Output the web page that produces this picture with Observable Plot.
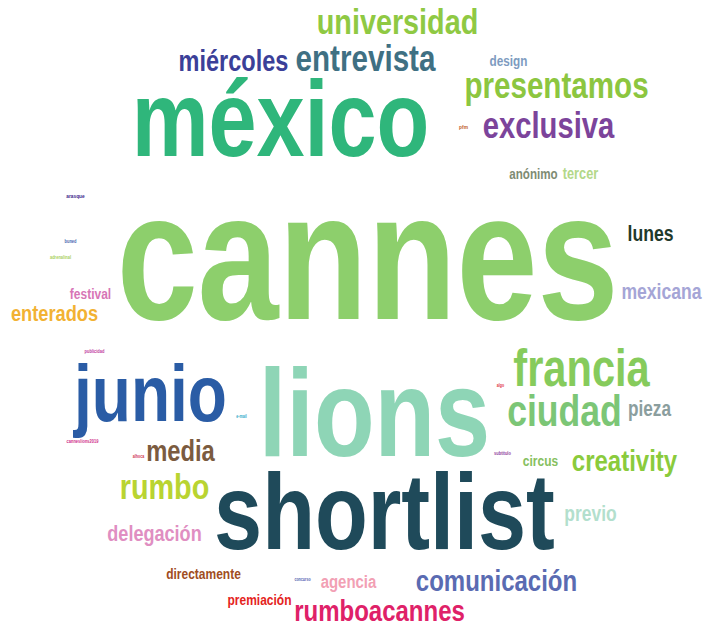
<!DOCTYPE html>
<html>
<head>
<meta charset="utf-8">
<script src="https://cdn.jsdelivr.net/npm/d3@7"></script>
<script src="https://cdn.jsdelivr.net/npm/@observablehq/plot@0.6"></script>
<style>
  html, body { margin: 0; padding: 0; background: #fff; }
</style>
</head>
<body>
<div id="chart"></div>
<script>
// Word-cloud content: words, their frequency weight (→ font size), colours,
// and the cloud layout (positions in layout units 0..716 × 0..626, baseline).
const words = ["cannes","lions","shortlist","méxico","junio","francia","ciudad","universidad",
  "entrevista","miércoles","presentamos","exclusiva","design","pfm","anónimo","tercer",
  "lunes","mexicana","festival","enterados","pieza","media","creativity","circus","rumbo",
  "previo","delegación","directamente","agencia","comunicación","premiación","rumboacannes",
  "arasque","buned","adrenalinal","publicidad","canneslions2019","alhoca","e-mail","algo","subtitulo","concurso"];
const weights = [182,124,108,108,80,52,44.5,36,37,29.4,37,36.5,14.7,6,14.5,16,
  22,22,15,22.8,21.5,29.7,30,15,36,21.8,22.6,15,18.7,30,15,30,
  6,5,5,5,5,4.5,4.5,4.5,5,4.5];
const colors = ["#8dcf6c","#8ed5b6","#1f4a5a","#2fb67b","#2a5ca5","#86cb5c","#7cc676","#8fc943",
  "#3f7083","#3b4098","#8cc640","#7c449b","#7d9bc0","#c0602a","#7e8b73","#b3d889",
  "#1f3a2c","#a5a5d6","#d775b6","#f2b233","#8b9e9e","#7b5b40","#8acb3c","#86c05e","#b9d431",
  "#b3dfcd","#e08ec2","#a04d22","#f2a0b4","#5a6bb2","#e4231d","#df2168",
  "#3a1f8a","#4a6ab0","#a8d060","#c040a0","#d0308a","#d03050","#30a8c8","#e03040","#9040a0","#5060b0"];
const layoutX = [367,374,384,280,150,581,564,397,365,233,556,548,508,463,533,580,
  650,661,90,54,649,180,624,540,164,590,154,203,348,496,259,379,
  75,70,60,94,82,138,241,500,502,302];
const layoutY = [318,455,548,155,420,385,425,33,70,70,97,137,65,128,178,178,
  240,298,298,320,415,460,470,465,498,520,540,578,587,590,604,620,
  197,242,258,352,442,457,417,386,454,580];

const xScaleFactor = 0.8;
const data = words.map((w, i) => ({word: w, size: weights[i], color: colors[i], x: layoutX[i], y: layoutY[i]}));

const plot = Plot.plot({
  width: 716,
  height: 626,
  margin: 0,
  x: {domain: [0, 716], axis: null},
  y: {domain: [0, 626], axis: null, reverse: true},
  style: {background: "#fff"},
  marks: [
    Plot.text(data, {
      x: "x", y: "y", text: "word",
      fontSize: "size",
      fill: "color",
      textAnchor: "middle",
      lineAnchor: "bottom",
      fontFamily: "Liberation Sans, Arial, sans-serif",
      fontWeight: "bold"
    })
  ]
});
// condense glyphs horizontally like the reference rendering
plot.querySelectorAll("text").forEach(t => {
  const tr = t.getAttribute("transform") || "";
  t.setAttribute("transform", tr + ` scale(${xScaleFactor},1)`);
});
document.getElementById("chart").appendChild(plot);
</script>
</body>
</html>
